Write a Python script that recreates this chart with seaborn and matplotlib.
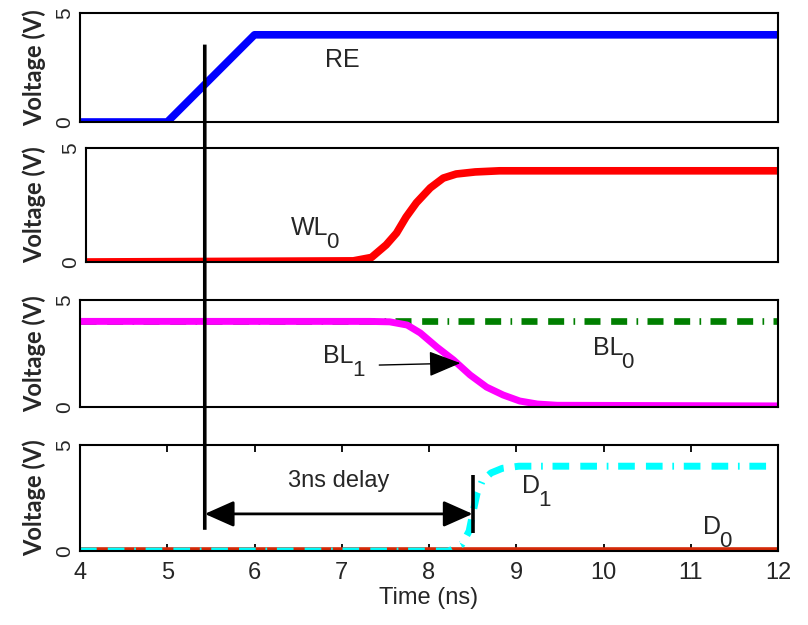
import matplotlib
matplotlib.use("Agg")
import matplotlib.pyplot as plt
from matplotlib import font_manager
from matplotlib.patches import ConnectionPatch, FancyArrowPatch
import seaborn as sns
import pandas as pd

# ---------------- data ----------------
re_t = [4.0, 5.0, 6.0, 12.0]
re_v = [0.0, 0.0, 4.0, 4.0]

wl0_t = [4.0, 7.09, 7.30, 7.47, 7.59, 7.70, 7.82, 7.98, 8.13, 8.28, 8.50, 8.78, 12.0]
wl0_v = [0.0, 0.05, 0.2, 0.75, 1.27, 1.97, 2.6, 3.25, 3.68, 3.86, 3.95, 4.0, 4.0]

bl1_t = [4.0, 7.32, 7.55, 7.75, 7.90, 8.09, 8.28, 8.47, 8.66, 8.85, 9.04, 9.24, 9.47, 12.0]
bl1_v = [4.0, 4.0, 3.98, 3.83, 3.46, 2.8, 2.2, 1.5, 0.93, 0.56, 0.28, 0.14, 0.08, 0.05]

bl0_t = [4.0, 12.0]
bl0_v = [4.0, 4.0]

d1_t = [4.0, 8.23, 8.38, 8.46, 8.5, 8.55, 8.61, 8.71, 8.84, 9.03, 12.0]
d1_v = [0.0, 0.0, 0.33, 0.94, 1.75, 2.7, 3.3, 3.68, 3.9, 4.0, 4.0]

d0_t = [4.0, 12.0]
d0_v = [0.0, 0.0]

x_ticks = [4, 5, 6, 7, 8, 9, 10, 11, 12]
y_ticks = [0, 5]

delay_start = 5.43
delay_end = 8.5

# ---------------- style ----------------
sns.set_theme(style="white")
names = {f.name for f in font_manager.fontManager.ttflist}
narrow = "Liberation Sans Narrow" if "Liberation Sans Narrow" in names else "Liberation Sans"
plt.rcParams["font.family"] = [narrow, "DejaVu Sans"]

fig = plt.figure(figsize=(8.08, 6.25), dpi=100)

W, H = 808, 625
def axes_at(l, t, r, b):
    return fig.add_axes([l / W, 1 - b / H, (r - l) / W, (b - t) / H])

ax1 = axes_at(80, 13, 778, 122)
ax2 = axes_at(86, 148, 778, 262)
ax3 = axes_at(80, 300, 778, 407)
ax4 = axes_at(80, 445, 778, 551)
axes = [ax1, ax2, ax3, ax4]

def draw(ax, t, v, color, lw, dashes=None):
    df = pd.DataFrame({"t": t, "v": v})
    sns.lineplot(data=df, x="t", y="v", ax=ax, color=color, lw=lw,
                 estimator=None, sort=False, solid_capstyle="butt",
                 solid_joinstyle="round")
    line = ax.lines[-1]
    if dashes is not None:
        line.set_dashes(dashes)
        line.set_dash_capstyle("butt")
    return line

dd = [2.4, 1.6, 2.4, 1.4, 0.25, 1.4]

draw(ax1, re_t, re_v, "#0000FF", 5.5)
draw(ax2, wl0_t, wl0_v, "#FF0000", 5.5)
draw(ax3, bl0_t, bl0_v, "#007F00", 4.8, dd)
draw(ax3, bl1_t, bl1_v, "#FF00FF", 5.0)
draw(ax4, d0_t, d0_v, "#D42A08", 5.5)
draw(ax4, d1_t, d1_v, "#00FFFF", 5.0, dd)

for ax in axes:
    ax.set_xlim(4, 12)
    ax.set_ylim(0, 5)
    ax.set_yticks(y_ticks)
    ax.set_yticklabels([str(y) for y in y_ticks], rotation=90, va="center",
                       fontsize=15)
    ax.tick_params(axis="y", length=0, pad=4)
    ax.set_ylabel("Voltage (V)", fontsize=17, fontweight="bold",
                  family=["Lato", "DejaVu Sans"])
    for s in ax.spines.values():
        s.set_visible(True)
        s.set_color("black")
        s.set_linewidth(1.5)
    ax.set_facecolor("white")
    if ax is not ax4:
        ax.set_xticks([])
        ax.set_xlabel("")

ax4.set_xticks(x_ticks)
ax4.set_xticklabels([str(x) for x in x_ticks], fontsize=17)
ax4.tick_params(axis="x", direction="in", top=True, bottom=True, length=5,
                width=1.3, color="black", pad=8)
ax4.set_xlabel("Time (ns)", fontsize=17, labelpad=2)

for ax in axes:
    # right edge of the rotated y-label at x = 46 px in the figure
    bb = ax.get_position()
    ax.yaxis.set_label_coords((46 / W - bb.x0) / bb.width, 0.5)

# ---------------- annotations ----------------
def label(ax, x, y, main, sub=None, size=18):
    t = ax.text(x, y, main, fontsize=size, ha="left", va="baseline")
    if sub is not None:
        ax.annotate(sub, xy=(1, 0), xycoords=t, xytext=(-1.5, -6),
                    textcoords="offset points", fontsize=16,
                    ha="left", va="baseline")
    return t

label(ax1, 6.81, 2.52, "RE")
label(ax2, 6.37, 1.18, "WL", "0")
label(ax3, 6.79, 2.06, "BL", "1")
label(ax3, 9.88, 2.43, "BL", "0")
label(ax4, 9.07, 2.74, "D", "1")
label(ax4, 11.14, 0.80, "D", "0")
ax4.text(6.97, 3.3, "3ns delay", fontsize=17, ha="center", va="center")

ax3.annotate("", xy=(8.36, 2.05), xytext=(7.43, 1.96),
             arrowprops=dict(arrowstyle="-|>,head_length=1.0,head_width=0.4",
                             color="black", lw=1.0, shrinkA=0, shrinkB=0,
                             mutation_scale=20))

arr = FancyArrowPatch((delay_start, 1.75), (delay_end, 1.75),
                      arrowstyle="<|-|>,head_length=0.9,head_width=0.4",
                      mutation_scale=20,
                      color="black", lw=2.0, shrinkA=0, shrinkB=0,
                      transform=ax4.transData, zorder=6)
ax4.add_patch(arr)
ax4.plot([delay_end, delay_end], [0.85, 3.6], color="black", lw=2.6,
         solid_capstyle="butt", zorder=6)

con = ConnectionPatch(xyA=(delay_start, 3.55), coordsA=ax1.transData,
                      xyB=(delay_start, 1.0), coordsB=ax4.transData,
                      color="black", lw=2.6, capstyle="butt")
fig.add_artist(con)

fig.savefig("out.png", dpi=100, facecolor="white")
